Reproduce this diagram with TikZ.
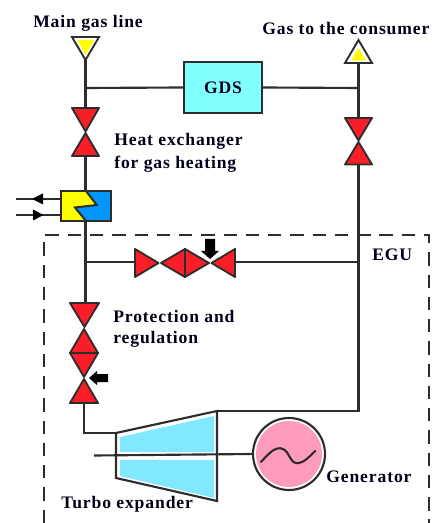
\documentclass[tikz,border=0pt]{standalone}
\usepackage{fontspec}
\setmainfont{Liberation Serif}
\newfontfamily\labfont[LetterSpace=5,BoldFont={Liberation Serif Bold}]{Liberation Serif}
\definecolor{vred}{RGB}{250,30,40}
\definecolor{lineC}{RGB}{45,45,45}
\definecolor{gdsC}{RGB}{130,255,255}
\definecolor{turbC}{RGB}{130,232,255}
\definecolor{hxB}{RGB}{0,150,255}
\definecolor{genC}{RGB}{255,155,190}
\definecolor{yel}{RGB}{255,255,0}
\tikzset{
  pipe/.style={draw=lineC,line width=1.6pt},
  vtri/.style={draw=lineC,fill=vred,line width=1.4pt,line join=round},
  lab/.style={font=\fontsize{13.2pt}{17.2pt}\selectfont\labfont\bfseries,text=black!90!blue,inner sep=0pt,align=left},
}
\begin{document}
\begin{tikzpicture}[x=0.75pt,y=-0.75pt]
\useasboundingbox (0,0) rectangle (435,523);
% named points
\coordinate (mainT) at (85.5,60);
\coordinate (j1) at (85.5,88);
\coordinate (lvT) at (85.5,108);
\coordinate (lvB) at (85.5,156);
\coordinate (hxT) at (85.5,191);
\coordinate (hxB) at (85.5,221);
\coordinate (j2) at (85.5,262);
\coordinate (pT) at (85.5,303);
\coordinate (pB) at (84,403);
\coordinate (bend) at (84,433);
\coordinate (tIn) at (116,433);
\coordinate (tOut) at (217,411);
\coordinate (rC) at (358.5,411);
\coordinate (rj2) at (358.5,262);
\coordinate (rvB) at (358.5,164);
\coordinate (rvT) at (358.5,118);
\coordinate (rj1) at (358.5,88);
\coordinate (consB) at (358.5,63);
\coordinate (hvL) at (135,262);
\coordinate (hvR) at (235,262);
\coordinate (inA) at (16,199);
\coordinate (inB) at (61,199);
\coordinate (outA) at (16,215);
\coordinate (outB) at (61,215);
% dashed frame
\draw[lineC,line width=1.4pt,dash pattern=on 10pt off 6.7pt] (44,523) -- (44,235) -- (429,235) -- (429,523);
% pipes
\node[draw=lineC,line width=1.5pt,fill=gdsC,minimum width=58.5pt,minimum height=38pt,inner sep=0pt] (gds) at (223,87.5) {};
\draw[pipe] (mainT) -- (lvT) (lvB) -- (hxT) (hxB) -- (pT);
\draw[pipe] (j1) -- (gds.west) (gds.east) -- (rj1);
\draw[pipe] (consB) -- (rvT) (rvB) -- (rC) -- (tOut);
\draw[pipe] (j2) -- (hvL) (hvR) -- (rj2);
\draw[pipe] (pB) -- (bend) -- (tIn);
% main gas line
\draw[line width=1.4pt,draw=lineC,fill=white,line join=miter] (72,37) -- (99,37) -- (85.5,60) -- cycle;
\fill[yel] (77.5,40) -- (94,40) -- (85.5,55) -- cycle;
% consumer
\draw[line width=1.4pt,draw=lineC,fill=white,line join=miter] (345,63) -- (372,63) -- (358.5,40) -- cycle;
\fill[yel] (351,60.5) -- (366,60.5) -- (358.5,48) -- cycle;
% left valve
\draw[vtri] (72,108) -- (99,108) -- (85.5,131.5) -- cycle;
\draw[vtri] (72,156) -- (99,156) -- (85.5,133) -- cycle;
% right valve
\draw[vtri] (345,118) -- (372,118) -- (358.5,140.5) -- cycle;
\draw[vtri] (345,164.5) -- (372,164.5) -- (358.5,142) -- cycle;
% heat exchanger
\fill[yel] (61,191) -- (86,191) -- (96.7,205) -- (75,207.5) -- (86,221) -- (61,221) -- cycle;
\fill[hxB] (111,191) -- (86,191) -- (96.7,205) -- (75,207.5) -- (86,221) -- (111,221) -- cycle;
\draw[lineC,line width=1.4pt] (61,191) rectangle (111,221);
\draw[lineC,line width=1.5pt,line join=miter] (86,191) -- (96.7,205) -- (75,207.5) -- (86,221);
\draw[pipe] (inA) -- (inB) (outA) -- (outB);
\fill[black] (32,199) -- (43,193.5) -- (43,204.5) -- cycle;
\fill[black] (43.5,215) -- (33,209.5) -- (33,220.5) -- cycle;
% horizontal valves
\draw[vtri] (135,249) -- (135,277) -- (158.5,263) -- cycle;
\draw[vtri] (185,249) -- (185,277) -- (161,263) -- cycle;
\draw[vtri] (185,249) -- (185,277) -- (209,263) -- cycle;
\draw[vtri] (235,249) -- (235,277) -- (211.5,263) -- cycle;
\fill[black] (205,239) -- (215,239) -- (215,251) -- (219,251) -- (210,259) -- (201,251) -- (205,251) -- cycle;
% vertical valves
\draw[vtri] (70,303) -- (99,303) -- (84.5,327) -- cycle;
\draw[vtri] (70,353) -- (98,353) -- (84,329) -- cycle;
\draw[vtri] (70,353) -- (98,353) -- (84,377) -- cycle;
\draw[vtri] (70,403) -- (98,403) -- (84,379) -- cycle;
\fill[black] (108,374) -- (108,382) -- (97,382) -- (97,385) -- (89,378) -- (97,371) -- (97,374) -- cycle;
% turbine
\fill[turbC] (120,437) -- (214,416) -- (214,452) -- (120,452) -- cycle;
\fill[turbC] (120,460) -- (214,460) -- (214,498) -- (120,476) -- cycle;
\draw[lineC,line width=1.6pt,line join=miter] (tIn) -- (tOut) -- (217,501) -- (116,478) -- cycle;
% generator
\node[circle,draw=lineC,line width=1.6pt,minimum size=54pt,inner sep=0pt] (gen) at (289,454) {};
\fill[genC] (289,454) circle[radius=33];
\coordinate (shaftL) at (94,455.5);
\draw[pipe] (shaftL) -- (gen.west);
\draw[lineC,line width=1.6pt,line cap=round] (261,462) .. controls (270,452) and (276,446) .. (283,449) .. controls (290,452) and (290,465) .. (299,463) .. controls (305,462) and (310,456) .. (315,451);
% labels
\node[lab,anchor=west] (l1) at (33,23) {Main gas line};
\node[lab,anchor=west] (l2) at (262,29) {Gas to the consumer};
\node[lab] (l3) at (223,88) {GDS};
\node[lab,anchor=west] (l4) at (114,141) {Heat exchanger};
\node[lab,anchor=west] (l4b) at (114,164) {for gas heating};
\node[lab,anchor=west] (l5) at (372,255) {EGU};
\node[lab,anchor=west] (l6) at (113,316) {Protection and};
\node[lab,anchor=west] (l6b) at (113,339) {regulation};
\node[lab,anchor=west] (l7) at (326,477) {Generator};
\node[lab,anchor=west] (l8) at (61,504) {Turbo expander};
\end{tikzpicture}
\end{document}
